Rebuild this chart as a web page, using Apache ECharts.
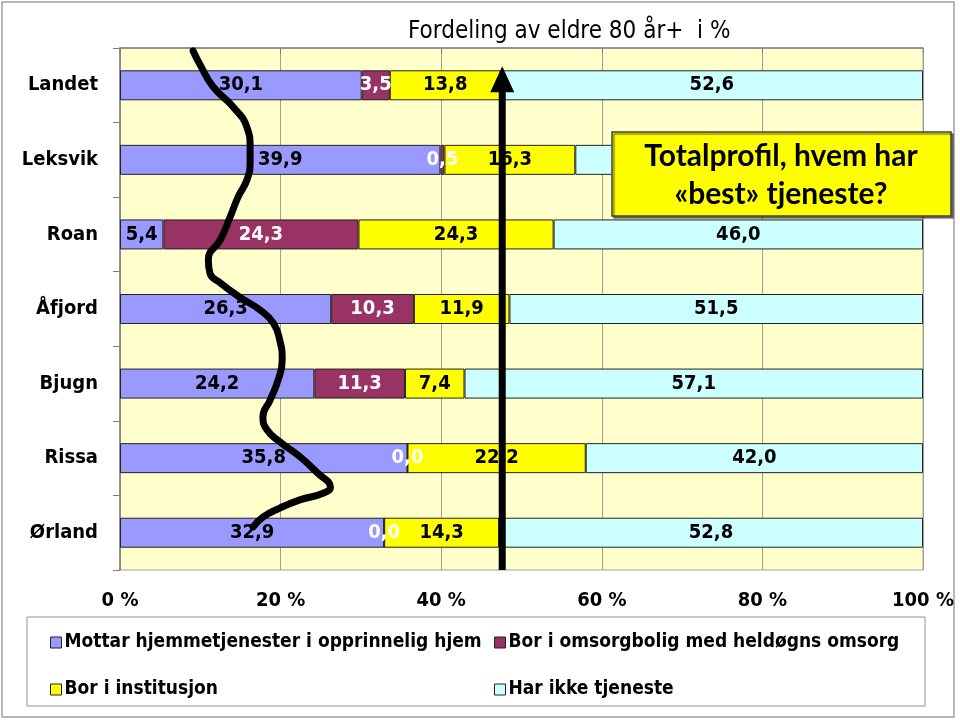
<!DOCTYPE html>
<html>
<head>
<meta charset="utf-8">
<script src="https://cdn.jsdelivr.net/npm/echarts@6/dist/echarts.min.js"></script>
<style>
  html, body { margin: 0; padding: 0; background: #fff; }
  #chart { width: 960px; height: 720px; }
</style>
</head>
<body>
<div id="chart"></div>
<script>
// data
const categories = ['Landet', 'Leksvik', 'Roan', 'Åfjord', 'Bjugn', 'Rissa', 'Ørland'];
const hjemme = [30.1, 39.9, 5.4, 26.3, 24.2, 35.8, 32.9];
const omsorgbolig = [3.5, 0.5, 24.3, 10.3, 11.3, 0.0, 0.0];
const institusjon = [13.8, 16.3, 24.3, 11.9, 7.4, 22.2, 14.3];
const ikkeTjeneste = [52.6, 43.3, 46.0, 51.5, 57.1, 42.0, 52.8];
const seriesNames = [
  'Mottar hjemmetjenester i opprinnelig hjem',
  'Bor i omsorgbolig med heldøgns omsorg',
  'Bor i institusjon',
  'Har ikke tjeneste'
];
const xTicks = [0, 20, 40, 60, 80, 100];

// hand drawn curve: x in %, y in category rows (0 = top of plot, 7 = bottom)
const curveX = [9.1, 10.0, 11.6, 14.1, 15.8, 16.2, 16.2, 15.8, 14.7, 13.7, 12.5, 11.0, 11.2, 12.5, 14.9, 17.4, 19.1, 19.9, 20.2, 19.7, 18.7, 17.8, 18.3, 19.9, 22.4, 24.5, 26.2, 25.3, 22.4, 19.9, 17.8, 16.6];
const curveY = [0.04, 0.23, 0.52, 0.79, 1.06, 1.33, 1.54, 1.77, 2.00, 2.27, 2.57, 2.84, 3.02, 3.15, 3.34, 3.51, 3.69, 3.92, 4.18, 4.45, 4.72, 4.95, 5.12, 5.28, 5.48, 5.69, 5.89, 5.97, 6.06, 6.17, 6.29, 6.42];
// vertical arrow
const arrowX = [47.6, 47.6];
const arrowY = [7.0, 0.42];

const narrow = "'Liberation Sans Narrow', 'DejaVu Sans Condensed', sans-serif";
const colors = ['#9999FF', '#993366', '#FFFF00', '#CCFFFF'];
const labelColors = ['#000', '#fff', '#000', '#000'];
const fmt = v => v.toFixed(1).replace('.', ',');

const chart = echarts.init(document.getElementById('chart'));

const barSeries = [hjemme, omsorgbolig, institusjon, ikkeTjeneste].map((vals, i) => ({
  name: seriesNames[i],
  type: 'bar',
  stack: 'total',
  barWidth: 30,
  data: vals,
  itemStyle: { color: colors[i], borderColor: '#222', borderWidth: 1 },
  label: {
    show: true,
    position: 'inside',
    formatter: p => fmt(p.value),
    color: labelColors[i],
    fontFamily: narrow,
    fontWeight: 'bold',
    fontSize: 20
  },
  z: 2
}));

const legendPos = [[45, 628], [489, 628], [45, 675], [489, 675]];

chart.setOption({
  animation: false,
  backgroundColor: '#fff',
  title: {
    text: 'Fordeling av eldre 80 år+  i %',
    left: 403,
    top: 15,
    textStyle: { fontFamily: narrow, fontWeight: 'normal', fontSize: 24, color: '#000' }
  },
  grid: {
    left: 120, right: 37, top: 48, bottom: 150,
    show: true, backgroundColor: '#FFFFCC', borderColor: '#A0A0A0', borderWidth: 1
  },
  legend: seriesNames.map((n, i) => ({
    data: [n],
    left: legendPos[i][0],
    top: legendPos[i][1],
    icon: 'rect',
    itemWidth: 11,
    itemHeight: 11,
    itemGap: 5,
    itemStyle: { borderColor: '#222', borderWidth: 1 },
    textStyle: { fontFamily: narrow, fontWeight: 'bold', fontSize: 19, color: '#000', padding: [0, 0, 0, -2] },
    selectedMode: false
  })),
  xAxis: {
    type: 'value',
    min: xTicks[0],
    max: xTicks[xTicks.length - 1],
    interval: 20,
    axisLine: { show: true, lineStyle: { color: '#808080', width: 1.5 } },
    axisTick: { show: true, length: 6, lineStyle: { color: '#808080' } },
    splitLine: { show: true, lineStyle: { color: '#A0A0A0', width: 1 } },
    axisLabel: {
      formatter: '{value} %',
      margin: 21,
      color: '#000',
      fontFamily: narrow,
      fontWeight: 'bold',
      fontSize: 20
    }
  },
  yAxis: [{
    type: 'category',
    inverse: true,
    data: categories,
    axisLine: { show: true, lineStyle: { color: '#808080', width: 1.5 } },
    axisTick: { show: true, length: 7, lineStyle: { color: '#808080' } },
    axisLabel: {
      margin: 22,
      color: '#000',
      fontFamily: narrow,
      fontWeight: 'bold',
      fontSize: 20
    }
  }, {
    type: 'value',
    min: 0,
    max: 7,
    inverse: true,
    show: false
  }],
  series: barSeries.concat([
    {
      type: 'line',
      yAxisIndex: 1,
      smooth: 0.5,
      symbol: 'none',
      data: curveX.map((x, i) => [x, curveY[i]]),
      lineStyle: { color: '#000', width: 7, cap: 'round', join: 'round' },
      z: 10,
      silent: true
    },
    {
      type: 'line',
      yAxisIndex: 1,
      symbol: 'none',
      data: [
        [arrowX[0], arrowY[0]],
        { value: [arrowX[1], arrowY[1]], symbol: 'triangle', symbolSize: [24, 26] }
      ],
      itemStyle: { color: '#000' },
      lineStyle: { color: '#000', width: 7 },
      z: 10,
      silent: true
    }
  ]),
  graphic: [
    {
      type: 'rect',
      shape: { x: 2, y: 2, width: 952, height: 715 },
      style: { fill: 'none', stroke: '#A0A0A0', lineWidth: 1.5 },
      z: 0,
      silent: true
    },
    {
      type: 'rect',
      shape: { x: 27, y: 617, width: 898, height: 89 },
      style: { fill: 'none', stroke: '#909090', lineWidth: 1 },
      z: 1,
      silent: true
    },
    {
      type: 'rect',
      shape: { x: 612, y: 132, width: 339, height: 84 },
      style: {
        fill: '#FFFF00', stroke: '#404040', lineWidth: 1.5,
        shadowColor: 'rgba(0,0,0,0.45)', shadowOffsetX: 2, shadowOffsetY: 2, shadowBlur: 1
      },
      z: 100,
      silent: true
    },
    {
      type: 'text',
      x: 781,
      y: 175,
      style: {
        text: 'Totalprofil, hvem har\n«best» tjeneste?',
        font: 'bold 30px Lato, "Open Sans", sans-serif',
        fill: '#000',
        align: 'center',
        verticalAlign: 'middle',
        lineHeight: 38
      },
      z: 101,
      silent: true
    }
  ]
});
</script>
</body>
</html>
